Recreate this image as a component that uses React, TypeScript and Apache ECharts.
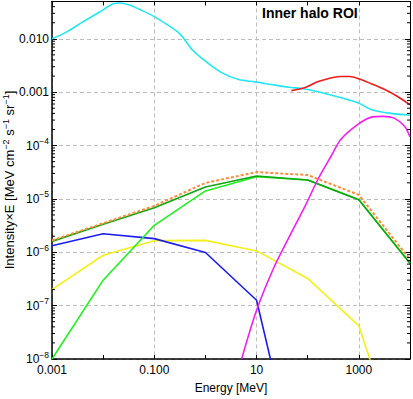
import React, { useEffect, useRef } from 'react';
import * as echarts from 'echarts';

// ---- data (Energy in MeV, Intensity×E) ----
const cyanE = [0.001, 0.00195, 0.004, 0.00855, 0.0153, 0.0209, 0.0327, 0.0512, 0.1, 0.305, 0.554, 1.01, 2.12, 4.47, 9.44, 19.5, 41.8, 88.3, 216, 453, 957, 1734, 4236, 10000];
const cyanI = [0.0100, 0.0135, 0.0207, 0.0318, 0.0449, 0.0468, 0.0430, 0.0357, 0.0260, 0.01277, 0.00624, 0.00378, 0.00230, 0.00172, 0.00156, 0.00139, 0.00124, 0.00115, 0.000944, 0.000785, 0.000633, 0.000475, 0.000400, 0.000370];

const redE = [47.9, 89.3, 160, 250, 428, 668, 1094, 1710, 3199, 5715, 10000];
const redI = [0.00107, 0.00122, 0.00158, 0.00179, 0.00196, 0.00196, 0.00172, 0.00145, 0.00112, 0.00083, 0.00058];

const magentaE = [5.1, 10, 21.4, 41.8, 89.3, 160, 286, 447, 957, 1710, 2924, 5000, 7816, 10000];
const magentaI = [1e-8, 8.2e-8, 4.97e-7, 1.8e-6, 7.4e-6, 2.36e-5, 6.3e-5, 1.31e-4, 2.49e-4, 3.37e-4, 3.52e-4, 3.23e-4, 2.29e-4, 1.45e-4];

const blueE = [0.001, 0.01, 0.1, 1, 10, 20];
const blueI = [1.33e-6, 2.23e-6, 1.8e-6, 9.9e-7, 1.26e-7, 7.6e-9];

const yellowE = [0.001, 0.01, 0.1, 1, 10, 100, 1000, 2000];
const yellowI = [2.0e-7, 8.8e-7, 1.65e-6, 1.67e-6, 1.06e-6, 3.23e-7, 4.17e-8, 5.6e-9];

const limeE = [0.001, 0.01, 0.1, 1, 10, 100, 1000, 10000];
const limeI = [1.0e-8, 3.0e-7, 3.2e-6, 1.41e-5, 2.6e-5, 2.26e-5, 9.6e-6, 6.2e-7];

const greenE = [0.001, 0.01, 0.1, 1, 10, 100, 1000, 10000];
const greenI = [1.6e-6, 3.35e-6, 6.8e-6, 1.67e-5, 2.68e-5, 2.26e-5, 9.6e-6, 6.2e-7];

const orangeE = [0.001, 0.01, 0.1, 1, 10, 100, 1000, 10000];
const orangeI = [1.67e-6, 3.5e-6, 7.4e-6, 1.99e-5, 3.18e-5, 2.8e-5, 1.19e-5, 7.3e-7];

// ---- axes ----
const X_MIN = 0.001;
const X_MAX = 10000;
const Y_MIN = 1e-8;
const Y_MAX = 0.05;
const xTickLabelValues = [0.001, 0.1, 10, 1000];
const xTickLabels = ['0.001', '0.100', '10', '1000'];
const yTickValues = [1e-8, 1e-7, 1e-6, 1e-5, 1e-4, 0.001, 0.01];
const yTickLabels = ['{b|10}{s|−8}', '{b|10}{s|−7}', '{b|10}{s|−6}', '{b|10}{s|−5}', '{b|10}{s|−4}', '0.001', '0.010'];

const FONT = 'Liberation Sans, Arial, Helvetica, sans-serif';
const lg = (v: number) => Math.log10(v);
const pts = (E: number[], I: number[]) => E.map((e, i) => [lg(e), lg(I[i])]);

export default function App() {
  const ref = useRef<HTMLDivElement>(null);
  useEffect(() => {
    if (!ref.current) return;
    const chart = echarts.init(ref.current, undefined, { renderer: 'svg' });
    const xmin = lg(X_MIN), xmax = lg(X_MAX), ymin = lg(Y_MIN), ymax = lg(Y_MAX);
    const xLabelMap: Record<string, string> = {};
    xTickLabelValues.forEach((v, i) => { xLabelMap[String(Math.round(lg(v)))] = xTickLabels[i]; });
    const yLabelMap: Record<string, string> = {};
    yTickValues.forEach((v, i) => { yLabelMap[String(Math.round(lg(v)))] = yTickLabels[i]; });

    const minorY: number[][] = [];
    yTickValues.forEach((v) => {
      for (let k = 2; k <= 9; k++) {
        const m = lg(v * k);
        if (m < ymax) minorY.push([xmin, m]);
      }
    });

    const gridLine = { show: true, lineStyle: { color: '#bdbdbd', type: [4, 3] as any, width: 1 } };
    const lineS = (name: string, data: number[][], color: string, extra: any = {}) => ({
      name, type: 'line', data, xAxisIndex: 0, yAxisIndex: 0, symbol: 'none',
      lineStyle: { color, width: 1.6, ...(extra.lineStyle || {}) },
      smooth: extra.smooth || false, clip: true, z: extra.z || 2,
    });

    chart.setOption({
      animation: false,
      backgroundColor: '#ffffff',
      grid: { left: 52, right: 1, top: 1.5, bottom: 38, containLabel: false },
      xAxis: [
        {
          type: 'value', position: 'bottom', min: xmin, max: xmax, interval: 1,
          axisLine: { show: true, onZero: false, lineStyle: { color: '#000', width: 1.5 } },
          axisTick: { show: true, inside: true, length: 4, lineStyle: { color: '#000' } },
          axisLabel: {
            show: true, margin: 5, color: '#000', fontFamily: FONT, fontSize: 12,
            formatter: (v: number) => { const e = Math.round(v); return Math.abs(v - e) < 1e-6 ? (xLabelMap[String(e)] || '') : ''; },
            showMaxLabel: true,
          },
          splitLine: { show: false },
          name: 'Energy [MeV]', nameLocation: 'middle', nameGap: 23,
          nameTextStyle: { color: '#000', fontFamily: FONT, fontSize: 12 },
        },
        {
          type: 'value', position: 'bottom', min: xmin, max: xmax, interval: 2,
          axisLine: { show: false }, axisTick: { show: false }, axisLabel: { show: false },
          splitLine: gridLine,
        },
        {
          type: 'value', position: 'top', min: xmin, max: xmax, interval: 1,
          axisLine: { show: true, onZero: false, lineStyle: { color: '#000', width: 1 } },
          axisTick: { show: true, inside: true, length: 4, lineStyle: { color: '#000' } },
          axisLabel: { show: false }, splitLine: { show: false },
        },
      ],
      yAxis: [
        {
          type: 'value', position: 'left', min: ymin, max: ymax, interval: 1,
          axisLine: { show: true, onZero: false, lineStyle: { color: '#000', width: 1.5 } },
          axisTick: { show: true, inside: true, length: 5, lineStyle: { color: '#000' } },
          axisLabel: {
            show: true, margin: 3, color: '#000', fontFamily: FONT, fontSize: 12,
            formatter: (v: number) => { const e = Math.round(v); return Math.abs(v - e) < 1e-6 ? (yLabelMap[String(e)] || '') : ''; },
            rich: {
              b: { fontSize: 12, fontFamily: FONT, color: '#000' },
              s: { fontSize: 8.5, fontFamily: FONT, color: '#000', padding: [0, 0, 9, 0] },
            },
          },
          splitLine: gridLine,
        },
        {
          type: 'value', position: 'right', min: ymin, max: ymax, interval: 1,
          axisLine: { show: true, onZero: false, lineStyle: { color: '#000', width: 1 } },
          axisTick: { show: true, inside: true, length: 5, lineStyle: { color: '#000' } },
          axisLabel: { show: false }, splitLine: { show: false },
        },
      ],
      graphic: [
        {
          type: 'text', left: 262, top: 6, z: 100,
          style: { text: 'Inner halo ROI', fontFamily: FONT, fontSize: 14, fontWeight: 'bold', fill: '#000' },
        },
        {
          type: 'text', x: 9.5, y: 180, rotation: Math.PI / 2, z: 100,
          style: {
            text: '{b|Intensity×E [MeV cm}{s|−2}{b| s}{s|−1}{b| sr}{s|−1}{b|]}',
            align: 'center', verticalAlign: 'middle',
            rich: {
              b: { fontSize: 13, fontFamily: FONT, fill: '#000' },
              s: { fontSize: 9, fontFamily: FONT, fill: '#000', padding: [0, 0, 7, 0] },
            },
          },
        },
      ],
      series: [
        {
          type: 'custom', xAxisIndex: 0, yAxisIndex: 0, data: minorY, clip: false, silent: true, z: 5,
          encode: { x: 0, y: 1 },
          renderItem: (params: any, api: any) => {
            const pL = api.coord([xmin, api.value(1)]);
            const pR = api.coord([xmax, api.value(1)]);
            return {
              type: 'group',
              children: [
                { type: 'line', shape: { x1: pL[0], y1: pL[1], x2: pL[0] + 3, y2: pL[1] }, style: { stroke: '#000', lineWidth: 1 } },
                { type: 'line', shape: { x1: pR[0], y1: pR[1], x2: pR[0] - 3, y2: pR[1] }, style: { stroke: '#000', lineWidth: 1 } },
              ],
            };
          },
        },
        lineS('cyan', pts(cyanE, cyanI), '#22e6f2', { smooth: 0.3 }),
        lineS('red', pts(redE, redI), '#ee1c1c', { smooth: 0.3 }),
        lineS('yellow', pts(yellowE, yellowI), '#f4f01a'),
        lineS('blue', pts(blueE, blueI), '#1c1cee'),
        lineS('lime', pts(limeE, limeI), '#22ee22'),
        lineS('green', pts(greenE, greenI), '#11a511'),
        lineS('orange', pts(orangeE, orangeI), '#ff8c3a', { lineStyle: { type: [3, 2], width: 2 } }),
        lineS('magenta', pts(magentaE, magentaI), '#f020f0', { smooth: 0.3, z: 3 }),
      ],
    } as any);
    return () => chart.dispose();
  }, []);
  return <div ref={ref} style={{ position: 'fixed', left: 0, top: 0, width: 413, height: 399, background: '#fff' }} />;
}
